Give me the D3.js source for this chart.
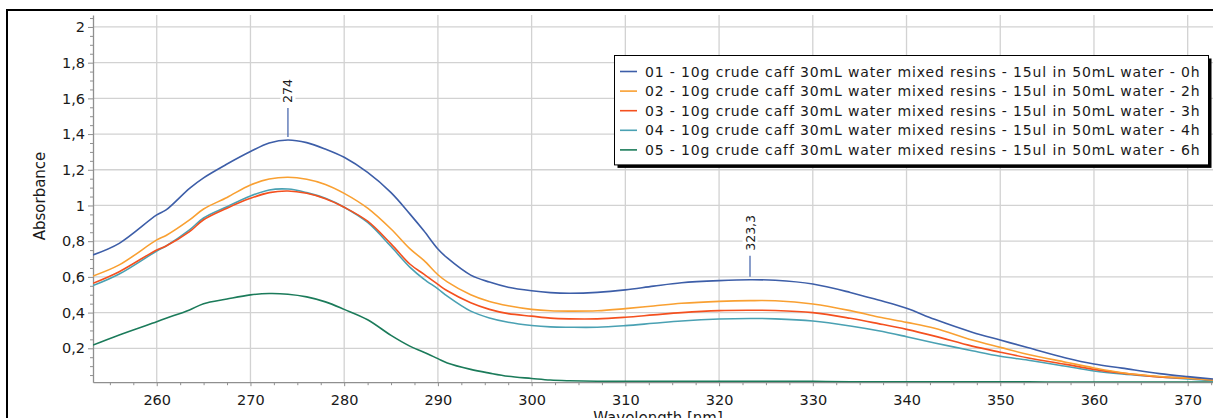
<!DOCTYPE html>
<html>
<head>
<meta charset="utf-8">
<script src="https://cdn.jsdelivr.net/npm/d3@7"></script>
<style>
  html, body { margin: 0; padding: 0; background: #fff; }
  svg { display: block; font-family: "DejaVu Sans", Verdana, sans-serif; }
</style>
</head>
<body>
<svg id="chart" width="1213" height="418"></svg>
<script>
// Wavelength sampling points (nm)
const wavelengths = [253.2, 256, 260, 261, 263.5, 265, 267.5, 270, 272, 274, 276, 278, 280, 282.5, 285, 287, 288.5, 290, 291, 293.5, 295.5, 297.5, 300, 302, 304, 307, 310, 313, 316, 320, 323.3, 326, 330, 334, 337, 340, 343, 347, 350, 353, 357, 360, 363, 367, 370, 372.7];

// Absorbance per sample
const abs0h = [0.723, 0.788, 0.947, 0.975, 1.096, 1.155, 1.232, 1.302, 1.350, 1.367, 1.352, 1.316, 1.270, 1.185, 1.072, 0.953, 0.858, 0.756, 0.706, 0.610, 0.571, 0.542, 0.522, 0.512, 0.508, 0.513, 0.527, 0.548, 0.567, 0.579, 0.584, 0.581, 0.560, 0.513, 0.470, 0.424, 0.362, 0.290, 0.246, 0.203, 0.146, 0.112, 0.089, 0.058, 0.041, 0.028];
const abs2h = [0.605, 0.667, 0.807, 0.832, 0.919, 0.980, 1.045, 1.115, 1.148, 1.158, 1.147, 1.118, 1.068, 0.985, 0.868, 0.758, 0.692, 0.612, 0.572, 0.500, 0.462, 0.438, 0.418, 0.410, 0.408, 0.410, 0.422, 0.437, 0.452, 0.463, 0.467, 0.466, 0.448, 0.411, 0.375, 0.345, 0.312, 0.246, 0.205, 0.165, 0.122, 0.090, 0.063, 0.042, 0.032, 0.022];
const abs3h = [0.564, 0.629, 0.751, 0.773, 0.853, 0.920, 0.985, 1.040, 1.072, 1.081, 1.068, 1.038, 0.990, 0.912, 0.785, 0.672, 0.615, 0.558, 0.522, 0.455, 0.418, 0.394, 0.380, 0.369, 0.365, 0.365, 0.374, 0.387, 0.400, 0.411, 0.413, 0.412, 0.400, 0.368, 0.338, 0.306, 0.268, 0.212, 0.178, 0.146, 0.110, 0.082, 0.061, 0.040, 0.033, 0.022];
const abs4h = [0.551, 0.616, 0.745, 0.773, 0.863, 0.930, 0.993, 1.053, 1.087, 1.092, 1.072, 1.040, 0.990, 0.905, 0.770, 0.655, 0.588, 0.533, 0.492, 0.408, 0.370, 0.346, 0.328, 0.320, 0.318, 0.318, 0.327, 0.340, 0.353, 0.364, 0.367, 0.365, 0.353, 0.325, 0.298, 0.265, 0.230, 0.186, 0.155, 0.133, 0.099, 0.073, 0.056, 0.040, 0.028, 0.019];
const abs6h = [0.218, 0.275, 0.349, 0.368, 0.415, 0.450, 0.476, 0.499, 0.507, 0.503, 0.488, 0.460, 0.418, 0.360, 0.272, 0.212, 0.178, 0.142, 0.118, 0.082, 0.061, 0.043, 0.031, 0.022, 0.018, 0.015, 0.015, 0.015, 0.015, 0.015, 0.015, 0.015, 0.015, 0.012, 0.012, 0.012, 0.012, 0.012, 0.012, 0.012, 0.011, 0.011, 0.011, 0.011, 0.011, 0.011];

const seriesNames = [
  "01 - 10g crude caff 30mL water mixed resins - 15ul in 50mL water - 0h",
  "02 - 10g crude caff 30mL water mixed resins - 15ul in 50mL water - 2h",
  "03 - 10g crude caff 30mL water mixed resins - 15ul in 50mL water - 3h",
  "04 - 10g crude caff 30mL water mixed resins - 15ul in 50mL water - 4h",
  "05 - 10g crude caff 30mL water mixed resins - 15ul in 50mL water - 6h"
];
const seriesValues = [abs0h, abs2h, abs3h, abs4h, abs6h];
const seriesColors = ["#3d5ea8", "#f9a032", "#f4501f", "#4aa1b3", "#1b7b5a"];

// Axis ticks
const xTicks = [260, 270, 280, 290, 300, 310, 320, 330, 340, 350, 360, 370];
const yTicks = [0.2, 0.4, 0.6, 0.8, 1, 1.2, 1.4, 1.6, 1.8, 2];

// Peak markers on the 0h spectrum (wavelength)
const peakWavelengths = [274, 323.3];
const peakLeadLength = [29, 21];

const xTitle = "Wavelength [nm]";
const yTitle = "Absorbance";

const locale = d3.formatLocale({ decimal: ",", thousands: ".", grouping: [3], currency: ["", ""] });
const fmtY = locale.format(".2~f");
const fmtPeak = locale.format(".1~f");

const svg = d3.select("#chart");
const W = 1213, H = 418;
const plot = { left: 93, right: 1213, top: 15, bottom: 382.2 };

const x = d3.scaleLinear().domain([253.2, 372.7]).range([plot.left, plot.right]);
const y = d3.scaleLinear().domain([0.01, 2.067]).range([plot.bottom, plot.top]);

// Outer frame
svg.append("rect")
  .attr("x", 7).attr("y", 10).attr("width", W + 20).attr("height", H + 20)
  .attr("fill", "#fff").attr("stroke", "#000").attr("stroke-width", 2);

svg.append("defs").append("clipPath").attr("id", "plotClip")
  .append("rect").attr("x", plot.left).attr("y", plot.top)
  .attr("width", plot.right - plot.left).attr("height", plot.bottom - plot.top);

// Grid
const grid = svg.append("g").attr("stroke", "#d2d2d2").attr("stroke-width", 1.3);
grid.selectAll("line.v").data(xTicks).join("line")
  .attr("x1", d => x(d)).attr("x2", d => x(d))
  .attr("y1", plot.top).attr("y2", plot.bottom);
grid.selectAll("line.h").data(yTicks).join("line")
  .attr("y1", d => y(d)).attr("y2", d => y(d))
  .attr("x1", plot.left).attr("x2", plot.right);

// Minor tick values
const xMinor = d3.range(255, 373, 2.5).filter(v => v % 10 !== 0);
const yMinor = d3.range(0.05, 2.06, 0.05).map(v => +v.toFixed(2)).filter(v => Math.abs(v * 5 - Math.round(v * 5)) > 1e-6);

function styleAxis(g) {
  g.select(".domain").attr("stroke", "#8f8f8f").attr("stroke-width", 1.3);
  g.selectAll(".tick line").attr("stroke", "#8f8f8f");
  g.selectAll("text").attr("fill", "#1a1a1a").attr("font-size", "14.5px")
    .attr("font-family", "'DejaVu Sans', Verdana, sans-serif");
}

// X axis
svg.append("g").attr("transform", `translate(0,${plot.bottom})`)
  .call(d3.axisBottom(x).tickValues(xMinor).tickSize(3).tickFormat("").tickSizeOuter(0))
  .call(g => { g.select(".domain").remove(); g.selectAll(".tick line").attr("stroke", "#8f8f8f"); });
svg.append("g").attr("transform", `translate(0,${plot.bottom})`)
  .call(d3.axisBottom(x).tickValues(xTicks).tickSize(4).tickPadding(9).tickSizeOuter(0).tickFormat(d3.format("d")))
  .call(styleAxis);

// Y axis
svg.append("g").attr("transform", `translate(${plot.left},0)`)
  .call(d3.axisLeft(y).tickValues(yMinor).tickSize(3).tickFormat("").tickSizeOuter(0))
  .call(g => { g.select(".domain").remove(); g.selectAll(".tick line").attr("stroke", "#8f8f8f"); });
svg.append("g").attr("transform", `translate(${plot.left},0)`)
  .call(d3.axisLeft(y).tickValues(yTicks).tickSize(5).tickPadding(3).tickSizeOuter(0).tickFormat(fmtY))
  .call(styleAxis);

// Axis titles
svg.append("text")
  .attr("transform", `translate(44.5,${(152 + 240) / 2}) rotate(-90)`)
  .attr("text-anchor", "middle")
  .attr("font-size", "15px").attr("fill", "#1a1a1a")
  .text(yTitle);
svg.append("text")
  .attr("x", (plot.left + plot.right) / 2 + 5).attr("y", 423)
  .attr("text-anchor", "middle")
  .attr("font-size", "15px").attr("fill", "#1a1a1a")
  .text(xTitle);

// Spectra
const line = d3.line()
  .x(d => x(d[0])).y(d => y(d[1]))
  .curve(d3.curveCatmullRom.alpha(0.5));
const lines = svg.append("g").attr("clip-path", "url(#plotClip)");
seriesValues.slice().reverse().forEach((vals, ri) => {
  const i = seriesValues.length - 1 - ri;
  lines.append("path")
    .datum(wavelengths.map((w, k) => [w, vals[k]]))
    .attr("fill", "none")
    .attr("stroke", seriesColors[i])
    .attr("stroke-width", 1.6)
    .attr("stroke-linejoin", "round")
    .attr("d", line);
});

// Peak markers
const peaks = svg.append("g");
peakWavelengths.forEach((w, k) => {
  const idx = wavelengths.indexOf(w);
  const v = abs0h[idx];
  const px = x(w), py = y(v);
  const y1 = py - 3, y0 = y1 - peakLeadLength[k];
  peaks.append("line")
    .attr("x1", px).attr("x2", px).attr("y1", y0).attr("y2", y1)
    .attr("stroke", seriesColors[0]).attr("stroke-width", 1.2);
  const t = peaks.append("text")
    .attr("transform", `translate(${px + 4.5},${y0 - 5}) rotate(-90)`)
    .attr("text-anchor", "start")
    .attr("font-size", "12.5px").attr("fill", "#1a1a1a")
    .text(fmtPeak(w));
  const bb = t.node().getBBox();
  peaks.insert("rect", "text")
    .attr("transform", `translate(${px + 4.5},${y0 - 5}) rotate(-90)`)
    .attr("x", bb.x - 2).attr("y", bb.y).attr("width", bb.width + 4).attr("height", bb.height)
    .attr("fill", "#fff");
});

// Legend
const lg = { x: 614, y: 55, rowH: 19.6, firstRow: 16.5, textWidth: 555 };
const legend = svg.append("g");
const shadow = legend.append("rect").attr("fill", "#000");
const box = legend.append("rect").attr("fill", "#fff").attr("stroke", "#000").attr("stroke-width", 1);
let maxW = 0;
seriesNames.forEach((name, i) => {
  const cy = lg.y + lg.firstRow + i * lg.rowH;
  legend.append("line")
    .attr("x1", lg.x + 6).attr("x2", lg.x + 23).attr("y1", cy).attr("y2", cy)
    .attr("stroke", seriesColors[i]).attr("stroke-width", 1.6);
  const t = legend.append("text")
    .attr("x", lg.x + 31).attr("y", cy).attr("dy", "0.36em")
    .attr("font-size", "14px").attr("fill", "#1a1a1a")
    .text(name);
  const w0 = t.node().getComputedTextLength();
  const spacing = Math.max(0, (lg.textWidth - w0) / name.length);
  t.attr("letter-spacing", spacing.toFixed(2) + "px");
  maxW = Math.max(maxW, t.node().getComputedTextLength());
});
const boxW = 31 + Math.min(maxW, lg.textWidth) + 8;
const boxH = lg.firstRow * 2 + (seriesNames.length - 1) * lg.rowH - 2;
box.attr("x", lg.x + 0.5).attr("y", lg.y + 0.5).attr("width", boxW).attr("height", boxH);
shadow.attr("x", lg.x + 3.5).attr("y", lg.y + 3.5).attr("width", boxW).attr("height", boxH);
</script>
</body>
</html>
